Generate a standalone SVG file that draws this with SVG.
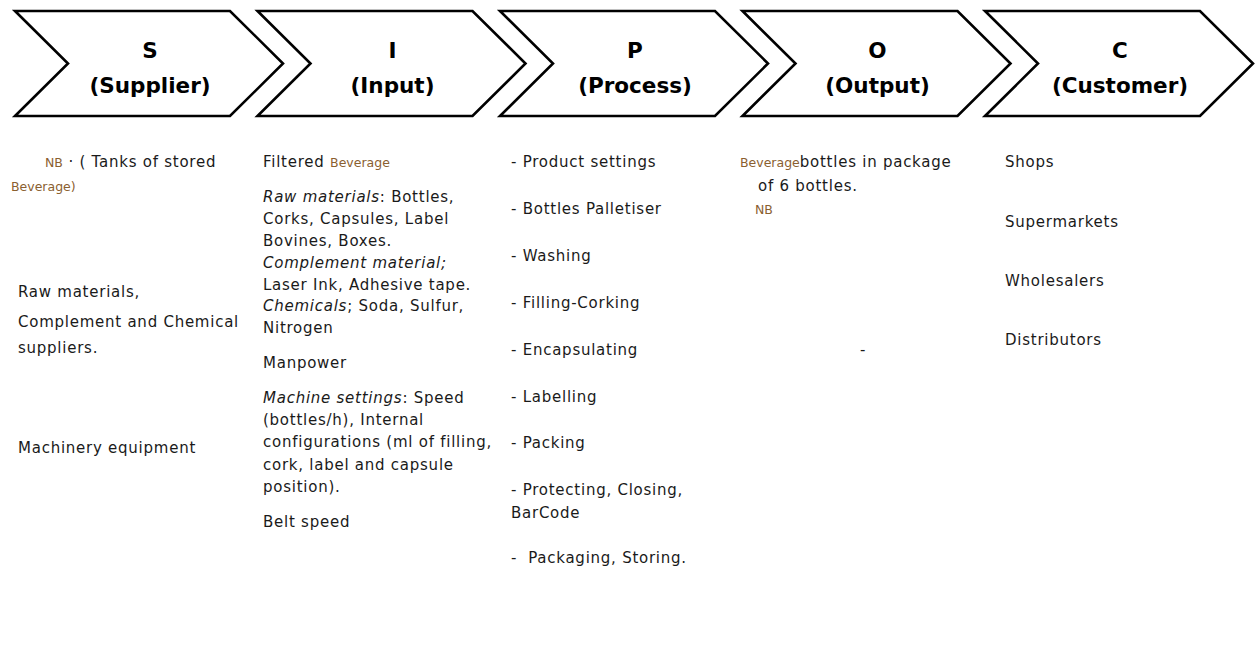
<svg xmlns="http://www.w3.org/2000/svg" width="1255" height="660" viewBox="0 0 1255 660">
<style>
.chev{fill:#ffffff;stroke:#000000;stroke-width:2.6;stroke-linejoin:miter}
.hd{font-family:"DejaVu Sans",Verdana,sans-serif;font-weight:bold;font-size:21.5px;fill:#000;text-anchor:middle}
.t{font-family:"DejaVu Sans",Verdana,sans-serif;font-size:15px;letter-spacing:0.75px;fill:#1a1a1a}
.i{font-style:italic}
.bv{font-family:"DejaVu Sans",Verdana,sans-serif;font-size:12.5px;letter-spacing:0;fill:#8a6030}
</style>
<rect width="1255" height="660" fill="#ffffff"/>
<g id="node-S">
<polygon class="chev" points="15,11 230,11 283,63.5 230,116 15,116 68,63.5"/>
<text class="hd" x="150" y="58">S</text>
<text class="hd" x="150" y="93">(Supplier)</text>
</g>
<g id="node-I">
<polygon class="chev" points="257.5,11 472.5,11 525.5,63.5 472.5,116 257.5,116 310.5,63.5"/>
<text class="hd" x="392.5" y="58">I</text>
<text class="hd" x="392.5" y="93">(Input)</text>
</g>
<g id="node-P">
<polygon class="chev" points="500,11 715,11 768,63.5 715,116 500,116 553,63.5"/>
<text class="hd" x="635" y="58">P</text>
<text class="hd" x="635" y="93">(Process)</text>
</g>
<g id="node-O">
<polygon class="chev" points="742.5,11 957.5,11 1010.5,63.5 957.5,116 742.5,116 795.5,63.5"/>
<text class="hd" x="877.5" y="58">O</text>
<text class="hd" x="877.5" y="93">(Output)</text>
</g>
<g id="node-C">
<polygon class="chev" points="985,11 1200,11 1253,63.5 1200,116 985,116 1038,63.5"/>
<text class="hd" x="1120" y="58">C</text>
<text class="hd" x="1120" y="93">(Customer)</text>
</g>
<g id="col-S">
<text class="t" x="45" y="167"><tspan class="bv">NB</tspan> · ( Tanks of stored</text>
<text class="t" x="11" y="191"><tspan class="bv">Beverage</tspan><tspan class="bv">)</tspan></text>
<text class="t" x="18" y="297">Raw materials,</text>
<text class="t" x="18" y="327">Complement and Chemical</text>
<text class="t" x="18" y="353">suppliers.</text>
<text class="t" x="18" y="453">Machinery equipment</text>
</g>
<g id="col-I">
<text class="t" x="263" y="167">Filtered <tspan class="bv">Beverage</tspan></text>
<text class="t" x="263" y="202"><tspan class="i">Raw materials</tspan>: Bottles,</text>
<text class="t" x="263" y="224">Corks, Capsules, Label</text>
<text class="t" x="263" y="246">Bovines, Boxes.</text>
<text class="t i" x="263" y="268">Complement material;</text>
<text class="t" x="263" y="290">Laser Ink, Adhesive tape.</text>
<text class="t" x="263" y="311"><tspan class="i">Chemicals</tspan>; Soda, Sulfur,</text>
<text class="t" x="263" y="333">Nitrogen</text>
<text class="t" x="263" y="368">Manpower</text>
<text class="t" x="263" y="403"><tspan class="i">Machine settings</tspan>: Speed</text>
<text class="t" x="263" y="425">(bottles/h), Internal</text>
<text class="t" x="263" y="447">configurations (ml of filling,</text>
<text class="t" x="263" y="470">cork, label and capsule</text>
<text class="t" x="263" y="492">position).</text>
<text class="t" x="263" y="527">Belt speed</text>
</g>
<g id="col-P">
<text class="t" x="511" y="167">- Product settings</text>
<text class="t" x="511" y="214">- Bottles Palletiser</text>
<text class="t" x="511" y="261">- Washing</text>
<text class="t" x="511" y="308">- Filling-Corking</text>
<text class="t" x="511" y="355">- Encapsulating</text>
<text class="t" x="511" y="402">- Labelling</text>
<text class="t" x="511" y="448">- Packing</text>
<text class="t" x="511" y="495">- Protecting, Closing,</text>
<text class="t" x="511" y="518">BarCode</text>
<text class="t" x="511" y="563" xml:space="preserve">-  Packaging, Storing.</text>
</g>
<g id="col-O">
<text class="t" x="740" y="167"><tspan class="bv">Beverage</tspan>bottles in package</text>
<text class="t" x="758" y="191">of 6 bottles.</text>
<text class="bv" x="755" y="214">NB</text>
<text class="t" x="860" y="355">-</text>
</g>
<g id="col-C">
<text class="t" x="1005" y="167">Shops</text>
<text class="t" x="1005" y="227">Supermarkets</text>
<text class="t" x="1005" y="286">Wholesalers</text>
<text class="t" x="1005" y="345">Distributors</text>
</g>
</svg>
